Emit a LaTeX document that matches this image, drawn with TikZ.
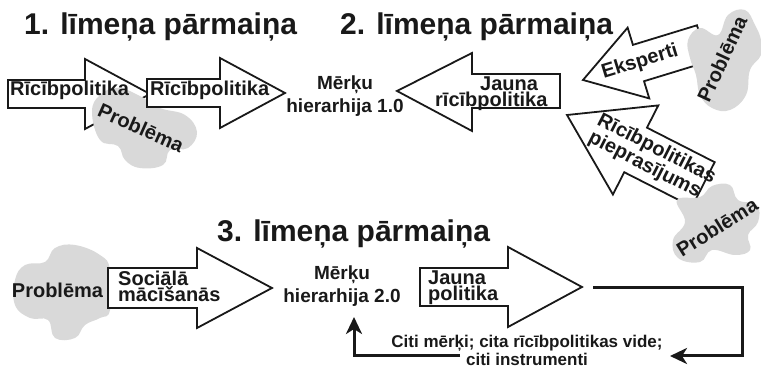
\documentclass[tikz,border=0pt]{standalone}
\usepackage{fontspec}
\setmainfont{Liberation Sans}
\usetikzlibrary{arrows.meta}
\definecolor{blobgray}{gray}{0.85}
\definecolor{ink}{gray}{0.1}
\tikzset{
  blockarrow/.style={draw=ink, line width=1.8pt, fill=white, line join=miter},
  blob/.style={fill=blobgray, draw=none},
  titletext/.style={font=\fontsize{30}{32}\selectfont\bfseries, inner sep=0pt, text=ink},
  lbl/.style={font=\fontsize{20}{16}\selectfont\bfseries, inner sep=0pt, text=ink},
  goal/.style={font=\fontsize{19}{23}\selectfont\bfseries, inner sep=0pt, align=center, text=ink},
  fbtextstyle/.style={font=\fontsize{17}{18}\selectfont\bfseries, inner sep=0pt, align=center, text=ink},
  fb/.style={draw=ink, line width=3pt, -{Stealth[length=17pt,width=16pt,inset=5pt]}},
}
\begin{document}
\begin{tikzpicture}[x=1pt,y=-1pt]
\useasboundingbox (0,0) rectangle (761,371);

% titles
\node[titletext, anchor=base west] (t1) at (24,35) {1. līmeņa pārmaiņa};
\node[titletext, anchor=base west] (t2) at (340,35) {2. līmeņa pārmaiņa};
\node[titletext, anchor=base west] (t3) at (217,242) {3. līmeņa pārmaiņa};

% ---- level 1
\draw[blockarrow] (8,80) -- (85,80) -- (85,59) -- (150,94) -- (85,129) -- (85,108) -- (8,108) -- cycle;
\fill[blob] plot[smooth cycle, tension=0.7] coordinates {(92,112) (100,95) (118,88) (140,96) (160,108) (185,115) (197,132) (188,148) (170,150) (163,165) (140,168) (125,160) (118,146) (100,140)};
\draw[blockarrow] (147,79) -- (220,79) -- (220,58) -- (285,93) -- (220,128) -- (220,107) -- (147,107) -- cycle;
\node[lbl, anchor=base west] (pol1) at (10,96) {Rīcībpolitika};
\node[lbl, anchor=base west] (pol2) at (150,96) {Rīcībpolitika};
\node[lbl, rotate=-24] (prob1) at (141,128) {Problēma};
\node[goal, anchor=north] (goal1) at (345,76) {Mērķu\\hierarhija 1.0};

% ---- level 2
\draw[blockarrow] (560,74) -- (472,74) -- (472,53) -- (397,91) -- (472,131) -- (472,108) -- (560,108) -- cycle;
\node[lbl, align=left, anchor=north west] (newpol) at (435,77) {\hspace*{45pt}Jauna\\rīcībpolitika};

\begin{scope}[shift={(583,80)}, rotate=17]
  \draw[blockarrow] (0,0) -- (58,37) -- (58,19) -- (125,19) -- (125,-19) -- (58,-19) -- (58,-37) -- cycle;
\end{scope}
\fill[blob] plot[smooth cycle, tension=0.7] coordinates {(688,40) (700,28) (718,35) (728,15) (745,10) (755,25) (761,40) (761,55) (750,70) (746,95) (730,110) (712,108) (700,95) (696,75) (690,58)};
\node[lbl, rotate=17] (exp) at (640,62) {Eksperti};
\node[lbl, rotate=65] (prob2) at (722,59) {Problēma};

\begin{scope}[shift={(567,115)}, rotate=-27]
  \draw[blockarrow] (0,0) -- (77,50) -- (77,25) -- (153,25) -- (153,-25) -- (77,-25) -- (77,-50) -- cycle;
\end{scope}
\fill[blob] plot[smooth cycle, tension=0.7] coordinates {(677,200) (700,197) (712,186) (730,185) (738,200) (757,205) (758,222) (748,235) (750,250) (735,255) (712,250) (700,262) (678,258) (673,240) (685,222)};
\node[lbl, rotate=-27, align=left] (demand) at (652,158) {Rīcībpolitikas\\pieprasījums};
\node[lbl, rotate=32] (prob3) at (717,227) {Problēma};

% ---- level 3
\fill[blob] plot[smooth cycle, tension=0.7] coordinates {(15,280) (25,265) (45,262) (55,248) (75,245) (100,255) (110,270) (110,310) (100,318) (85,325) (75,338) (55,338) (48,320) (30,318) (15,305)};
\draw[blockarrow] (108,268) -- (197,268) -- (197,248) -- (272,288) -- (197,328) -- (197,308) -- (108,308) -- cycle;
\node[lbl, anchor=base] (prob4) at (57.5,298) {Problēma};
\node[lbl, align=left, anchor=north west] (social) at (118,270.5) {Sociālā\\mācīšanās};
\node[goal, anchor=north] (goal2) at (342,266) {Mērķu\\hierarhija 2.0};

\draw[blockarrow] (420,268) -- (508,268) -- (508,247) -- (582,287) -- (508,327) -- (508,306) -- (420,306) -- cycle;
\node[lbl, align=left, anchor=north west] (newpol2) at (428,271) {Jauna\\politika};

% feedback loop
\coordinate (fbA) at (593,288);
\coordinate (fbR) at (742,356);
\coordinate (fbB) at (670,356);
\coordinate (fbC) at (460,356);
\coordinate (fbD) at (354,317);
\node[fbtextstyle, anchor=north] (fbtext) at (527,334.5) {Citi mērķi; cita rīcībpolitikas vide;\\citi instrumenti};
\draw[fb] (fbA) -| (fbR) -- (fbB);
\draw[fb] (fbC) -| (fbD);
\end{tikzpicture}
\end{document}
